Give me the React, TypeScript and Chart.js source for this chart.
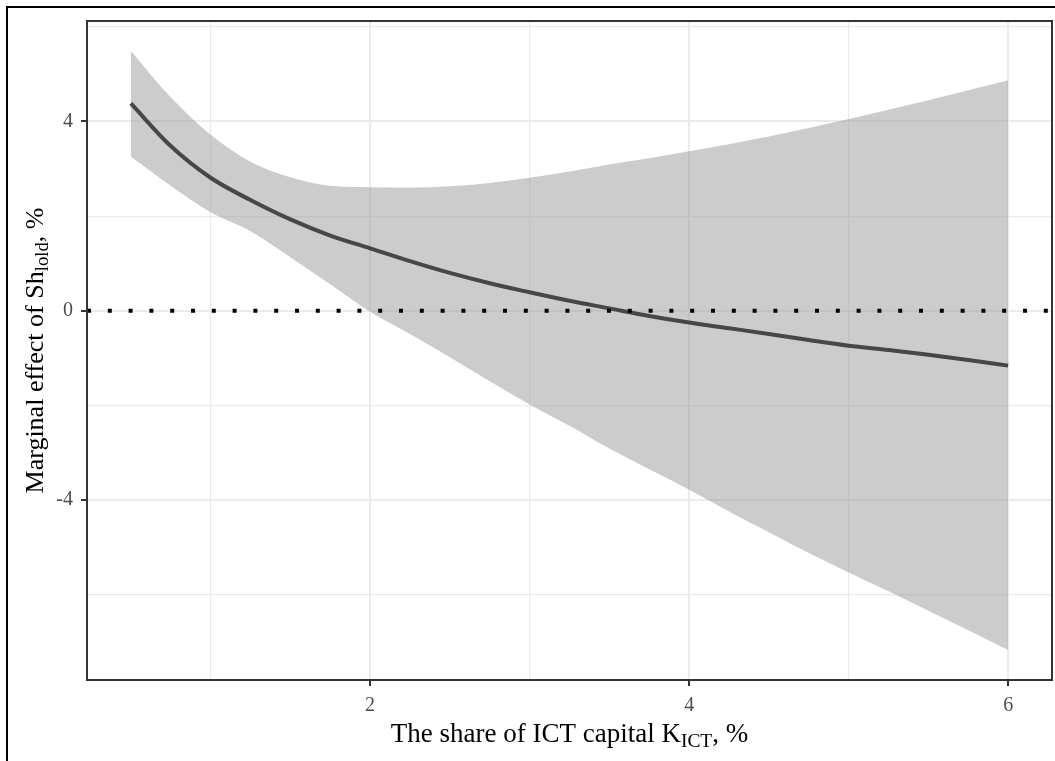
import React, { useEffect, useRef } from 'react';
import { Chart, registerables } from 'chart.js';

Chart.register(...registerables);

// ---- data ----
const X_VALUES = [0.5, 0.75, 1, 1.25, 1.5, 1.75, 2, 2.25, 2.5, 2.75, 3, 3.25, 3.5, 3.75, 4, 4.25, 4.5, 4.75, 5, 5.25, 5.5, 5.75, 6];
const ESTIMATE = [4.38, 3.48, 2.81, 2.34, 1.93, 1.59, 1.32, 1.05, 0.8, 0.58, 0.39, 0.21, 0.05, -0.11, -0.25, -0.37, -0.49, -0.62, -0.74, -0.83, -0.93, -1.04, -1.16];
const UPPER = [5.49, 4.51, 3.72, 3.15, 2.82, 2.64, 2.61, 2.6, 2.63, 2.7, 2.81, 2.94, 3.09, 3.22, 3.37, 3.52, 3.68, 3.86, 4.05, 4.25, 4.45, 4.66, 4.87];
const LOWER = [3.26, 2.64, 2.08, 1.68, 1.13, 0.56, -0.02, -0.49, -0.98, -1.49, -1.98, -2.43, -2.91, -3.35, -3.78, -4.24, -4.68, -5.12, -5.53, -5.93, -6.34, -6.75, -7.17];

const X_GRID = [1, 2, 3, 4, 5, 6];
const X_TICK_LABELS = [2, 4, 6];
const Y_GRID = [-6, -4, -2, 0, 2, 4, 6];
const Y_TICK_LABELS = [-4, 0, 4];
const ZERO_LINE = 0;

const X_TITLE = { main: 'The share of ICT capital K', sub: 'ICT', tail: ', %' };
const Y_TITLE = { main: 'Marginal effect of Sh', sub: 'lold', tail: ', %' };

const SERIF = "'Liberation Serif', 'Times New Roman', serif";
const TICK_SIZE = 20;
const X_TITLE_SIZE = 27;
const Y_TITLE_SIZE = 26;

function expand(values: number[], mult = 0.05) {
  const lo = Math.min(...values);
  const hi = Math.max(...values);
  const pad = (hi - lo) * mult;
  return { min: lo - pad, max: hi + pad };
}

function drawRich(ctx: CanvasRenderingContext2D, t: { main: string; sub: string; tail: string }, size: number) {
  const subSize = size * 0.72;
  ctx.font = `${size}px ${SERIF}`;
  const w1 = ctx.measureText(t.main).width;
  const w3 = ctx.measureText(t.tail).width;
  ctx.font = `${subSize}px ${SERIF}`;
  const w2 = ctx.measureText(t.sub).width;
  const total = w1 + w2 + w3;
  let x = -total / 2;
  ctx.textAlign = 'left';
  ctx.textBaseline = 'alphabetic';
  ctx.fillStyle = '#000000';
  ctx.font = `${size}px ${SERIF}`;
  ctx.fillText(t.main, x, 0);
  x += w1;
  ctx.font = `${subSize}px ${SERIF}`;
  ctx.fillText(t.sub, x, size * 0.2);
  x += w2;
  ctx.font = `${size}px ${SERIF}`;
  ctx.fillText(t.tail, x, 0);
}

const decorPlugin = {
  id: 'decor',
  afterDatasetsDraw(chart: any) {
    const { ctx, chartArea: a, scales } = chart;
    const y0 = scales.y.getPixelForValue(ZERO_LINE);
    ctx.save();
    ctx.beginPath();
    ctx.rect(a.left, a.top, a.right - a.left, a.bottom - a.top);
    ctx.clip();
    ctx.strokeStyle = '#000000';
    ctx.lineWidth = 4;
    ctx.lineCap = 'butt';
    ctx.setLineDash([4, 16.8]);
    ctx.beginPath();
    ctx.moveTo(a.left, y0);
    ctx.lineTo(a.right, y0);
    ctx.stroke();
    ctx.restore();
  },
  afterDraw(chart: any) {
    const { ctx, chartArea: a } = chart;
    ctx.save();
    ctx.strokeStyle = '#333333';
    ctx.lineWidth = 2;
    ctx.strokeRect(a.left, a.top, a.right - a.left, a.bottom - a.top);
    ctx.restore();

    ctx.save();
    ctx.translate((a.left + a.right) / 2, 742);
    drawRich(ctx, X_TITLE, X_TITLE_SIZE);
    ctx.restore();

    ctx.save();
    ctx.translate(43, (a.top + a.bottom) / 2);
    ctx.rotate(-Math.PI / 2);
    drawRich(ctx, Y_TITLE, Y_TITLE_SIZE);
    ctx.restore();
  },
};

export default function App() {
  const ref = useRef<HTMLCanvasElement | null>(null);

  useEffect(() => {
    if (!ref.current) return;
    const xr = expand(X_VALUES);
    const yr = expand([...UPPER, ...LOWER]);
    const pts = (ys: number[]) => X_VALUES.map((x, i) => ({ x, y: ys[i] }));

    const chart = new Chart(ref.current, {
      type: 'line',
      data: {
        datasets: [
          {
            label: 'estimate',
            data: pts(ESTIMATE),
            borderColor: '#474747',
            borderWidth: 4,
            pointRadius: 0,
            fill: false,
            cubicInterpolationMode: 'monotone',
          },
          {
            label: 'upper',
            data: pts(UPPER),
            borderColor: 'rgba(0,0,0,0)',
            borderWidth: 0,
            pointRadius: 0,
            backgroundColor: 'rgba(153,153,153,0.5)',
            fill: '+1',
            cubicInterpolationMode: 'monotone',
          },
          {
            label: 'lower',
            data: pts(LOWER),
            borderColor: 'rgba(0,0,0,0)',
            borderWidth: 0,
            pointRadius: 0,
            fill: false,
            cubicInterpolationMode: 'monotone',
          },
        ],
      },
      options: {
        responsive: false,
        animation: false,
        devicePixelRatio: 1,
        layout: { padding: { left: 0, right: 3, top: 21, bottom: 0 } },
        plugins: { legend: { display: false }, tooltip: { enabled: false } },
        events: [],
        scales: {
          x: {
            type: 'linear',
            min: xr.min,
            max: xr.max,
            afterFit: (s: any) => { s.height = 81; },
            afterBuildTicks: (s: any) => { s.ticks = X_GRID.map((v) => ({ value: v })); },
            ticks: {
              autoSkip: false,
              maxRotation: 0,
              padding: 8,
              color: '#4D4D4D',
              font: { family: SERIF, size: TICK_SIZE },
              callback: (v: any) => (X_TICK_LABELS.includes(Number(v)) ? String(v) : ''),
            },
            grid: {
              color: '#EBEBEB',
              lineWidth: (c: any) => (X_TICK_LABELS.includes(c.tick?.value) ? 2 : 1.2),
              tickLength: 6,
              tickWidth: 2,
              tickColor: (c: any) => (X_TICK_LABELS.includes(c.tick?.value) ? '#333333' : 'rgba(0,0,0,0)'),
            },
            border: { display: false },
          },
          y: {
            type: 'linear',
            min: yr.min,
            max: yr.max,
            afterFit: (s: any) => { s.width = 87; },
            afterBuildTicks: (s: any) => { s.ticks = Y_GRID.map((v) => ({ value: v })); },
            ticks: {
              autoSkip: false,
              padding: 8,
              color: '#4D4D4D',
              font: { family: SERIF, size: TICK_SIZE },
              callback: (v: any) => (Y_TICK_LABELS.includes(Number(v)) ? String(v) : ''),
            },
            grid: {
              color: '#EBEBEB',
              lineWidth: (c: any) => (Y_TICK_LABELS.includes(c.tick?.value) ? 2 : 1.2),
              tickLength: 6,
              tickWidth: 2,
              tickColor: (c: any) => (Y_TICK_LABELS.includes(c.tick?.value) ? '#333333' : 'rgba(0,0,0,0)'),
            },
            border: { display: false },
          },
        },
      },
      plugins: [decorPlugin],
    } as any);

    return () => chart.destroy();
  }, []);

  return (
    <div style={{ position: 'absolute', left: 0, top: 0, width: 1055, height: 761, overflow: 'hidden', background: '#ffffff' }}>
      <div
        style={{
          position: 'absolute',
          left: 6,
          top: 6,
          right: -10,
          bottom: -10,
          borderTop: '2px solid #000000',
          borderLeft: '2px solid #000000',
        }}
      />
      <canvas ref={ref} width={1055} height={761} style={{ position: 'absolute', left: 0, top: 0, width: 1055, height: 761 }} />
    </div>
  );
}
